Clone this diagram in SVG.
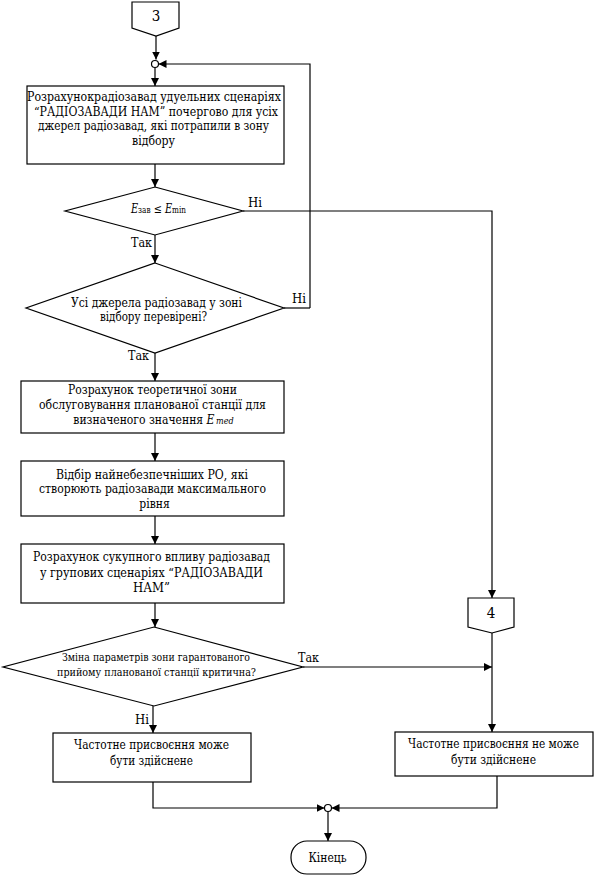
<svg xmlns="http://www.w3.org/2000/svg" width="594" height="880" viewBox="0 0 594 880">
<defs>
<marker id="arr" viewBox="0 0 10 10" refX="10" refY="5" markerWidth="8" markerHeight="8" markerUnits="userSpaceOnUse" orient="auto">
<path d="M0,0 L10,5 L0,10 z" fill="#000"/>
</marker>
<style>
.sh{fill:#fff;stroke:#000;stroke-width:1.2}
.ln{fill:none;stroke:#000;stroke-width:1.2}
.ar{fill:none;stroke:#000;stroke-width:1.2;marker-end:url(#arr)}
.c{text-anchor:middle}
.i{font-style:italic}
</style>
</defs>
<rect width="594" height="880" fill="#fff"/>
<g style="font-family:'DejaVu Serif Condensed','DejaVu Serif','Liberation Serif',serif" font-size="12" fill="#000">
<g id="connectors">
<path class="ar" d="M156,36 L156,59.5"/>
<path class="ar" d="M155,67.5 L155,86"/>
<path class="ar" d="M310,308 L310,64 L158.5,64"/>
<path class="ln" d="M284,308 L310,308"/>
<path class="ar" d="M155,164 L155,187"/>
<path class="ar" d="M155,235 L155,263"/>
<path class="ar" d="M243,211 L492,211 L492,598"/>
<path class="ar" d="M155,353 L155,381"/>
<path class="ar" d="M155,433 L155,461"/>
<path class="ar" d="M155,516 L155,544"/>
<path class="ar" d="M155,603 L155,627"/>
<path class="ar" d="M153,706 L153,733"/>
<path class="ar" d="M303,667 L492,667"/>
<path class="ar" d="M492,633 L492,732"/>
<path class="ar" d="M153,782 L153,808 L324.5,808"/>
<path class="ar" d="M497,776 L497,808 L331.5,808"/>
<path class="ar" d="M328,811.5 L328,841"/>
<circle class="sh" cx="155" cy="64" r="3.5"/>
<circle class="sh" cx="328" cy="808" r="3.5"/>
<text x="248" y="207" textLength="14" lengthAdjust="spacingAndGlyphs">Ні</text>
<text x="131" y="247" textLength="21" lengthAdjust="spacingAndGlyphs">Так</text>
<text x="292" y="303" textLength="14" lengthAdjust="spacingAndGlyphs">Ні</text>
<text x="128" y="360" textLength="21" lengthAdjust="spacingAndGlyphs">Так</text>
<text x="298" y="662" textLength="21" lengthAdjust="spacingAndGlyphs">Так</text>
<text x="135" y="724" textLength="14" lengthAdjust="spacingAndGlyphs">Ні</text>
</g>
<g id="start3">
<path class="sh" d="M132,2 L179,2 L179,28 L156,36 L132,28 Z"/>
<text class="c" x="156" y="21" font-size="15">3</text>
</g>
<g id="box1">
<rect class="sh" x="27" y="86" width="257" height="78"/>
<text class="c" x="154" y="101" textLength="254" lengthAdjust="spacingAndGlyphs">Розрахунокрадіозавад удуельних сценаріях</text>
<text class="c" x="156" y="115.5" textLength="244" lengthAdjust="spacingAndGlyphs">“РАДІОЗАВАДИ НАМ” почергово для усіх</text>
<text class="c" x="153.5" y="130" textLength="231" lengthAdjust="spacingAndGlyphs">джерел радіозавад, які потрапили в зону</text>
<text class="c" x="153.5" y="144.5" textLength="43" lengthAdjust="spacingAndGlyphs">відбору</text>
</g>
<g id="dec1">
<path class="sh" d="M155,187 L243,211 L155,235 L65,211 Z"/>
<text class="c" x="158.5" y="213" textLength="55" lengthAdjust="spacingAndGlyphs"><tspan class="i">E</tspan><tspan font-size="9">зав</tspan> ≤ <tspan class="i">E</tspan><tspan font-size="9">min</tspan></text>
</g>
<g id="dec2">
<path class="sh" d="M155,263 L284,308 L155,353 L26,308 Z"/>
<text class="c" x="156.5" y="307" textLength="171" lengthAdjust="spacingAndGlyphs">Усі джерела радіозавад у зоні</text>
<text class="c" x="153.5" y="321" textLength="107" lengthAdjust="spacingAndGlyphs">відбору перевірені?</text>
</g>
<g id="box3">
<rect class="sh" x="21" y="381" width="263" height="52"/>
<text class="c" x="152.5" y="394" textLength="169" lengthAdjust="spacingAndGlyphs">Розрахунок теоретичної зони</text>
<text class="c" x="152.5" y="409" textLength="227" lengthAdjust="spacingAndGlyphs">обслуговування планованої станції для</text>
<text class="c" x="153.5" y="424">визначеного значення <tspan class="i">E</tspan><tspan class="i" font-size="9" dx="1.5">med</tspan></text>
</g>
<g id="box4">
<rect class="sh" x="21" y="461" width="263" height="55"/>
<text class="c" x="152" y="479" textLength="192" lengthAdjust="spacingAndGlyphs">Відбір найнебезпечніших РО, які</text>
<text class="c" x="152.5" y="493" textLength="227" lengthAdjust="spacingAndGlyphs">створюють радіозавади максимального</text>
<text class="c" x="154.5" y="508">рівня</text>
</g>
<g id="box5">
<rect class="sh" x="21" y="544" width="263" height="59"/>
<text class="c" x="151.5" y="561" textLength="237" lengthAdjust="spacingAndGlyphs">Розрахунок сукупного впливу радіозавад</text>
<text class="c" x="151.5" y="577" textLength="223" lengthAdjust="spacingAndGlyphs">у групових сценаріях “РАДІОЗАВАДИ</text>
<text class="c" x="151.5" y="592" textLength="37" lengthAdjust="spacingAndGlyphs">НАМ”</text>
</g>
<g id="dec3">
<path class="sh" d="M154,627 L303,667 L154,706 L3,667 Z"/>
<text class="c" x="156" y="661" font-size="11" textLength="188" lengthAdjust="spacingAndGlyphs">Зміна параметрів зони гарантованого</text>
<text class="c" x="156.5" y="676" font-size="11" textLength="199" lengthAdjust="spacingAndGlyphs">прийому планованої станції критична?</text>
</g>
<g id="conn4">
<path class="sh" d="M468,598 L514,598 L514,627 L492,633 L468,627 Z"/>
<text class="c" x="491" y="618" font-size="15">4</text>
</g>
<g id="boxYes">
<rect class="sh" x="53" y="733" width="198" height="49"/>
<text class="c" x="151.5" y="749" textLength="155" lengthAdjust="spacingAndGlyphs">Частотне присвоєння може</text>
<text class="c" x="151.5" y="765" textLength="83" lengthAdjust="spacingAndGlyphs">бути здійснене</text>
</g>
<g id="boxNo">
<rect class="sh" x="395" y="732" width="198" height="44"/>
<text class="c" x="493.5" y="748" textLength="171" lengthAdjust="spacingAndGlyphs">Частотне присвоєння не може</text>
<text class="c" x="493.5" y="764" textLength="85" lengthAdjust="spacingAndGlyphs">бути здійснене</text>
</g>
<g id="end">
<rect class="sh" x="291" y="841" width="75" height="33" rx="16" ry="16"/>
<text class="c" x="327.5" y="862" textLength="38" lengthAdjust="spacingAndGlyphs">Кінець</text>
</g>
</g>
</svg>
